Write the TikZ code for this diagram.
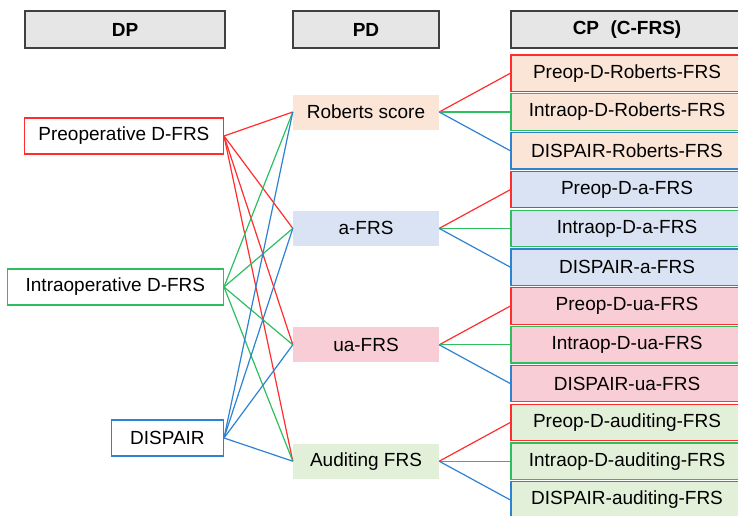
\documentclass[tikz,border=0pt]{standalone}
\usepackage{fontspec}
\setmainfont{Liberation Sans}
\usepackage{tikz}

\definecolor{lnred}{RGB}{255,45,45}
\definecolor{lngreen}{RGB}{45,190,95}
\definecolor{lnblue}{RGB}{45,130,210}
\definecolor{headfill}{RGB}{231,230,230}
\definecolor{headline}{RGB}{64,64,64}
\definecolor{robfill}{RGB}{251,229,214}
\definecolor{afill}{RGB}{218,227,243}
\definecolor{uafill}{RGB}{249,205,213}
\definecolor{audfill}{RGB}{226,240,217}

\begin{document}
\begin{tikzpicture}[x=1pt,y=-1pt,font=\fontsize{19}{22}\selectfont]

	\tikzstyle head=[draw=headline,fill=headfill,line width=1.3pt,minimum height=37pt,inner sep=0pt,font=\fontsize{19}{22}\selectfont\bfseries];
	\tikzstyle dp box=[draw,fill=white,line width=1.2pt,minimum height=36pt,inner sep=0pt,anchor=east];
	\tikzstyle pd box=[minimum width=146pt,minimum height=35pt,inner sep=0pt];
	\tikzstyle cp box=[draw,line width=1.2pt,minimum width=232pt,minimum height=36.5pt,inner sep=0pt];
	\tikzstyle red lines=[lnred,line width=1.2pt];
	\tikzstyle green lines=[lngreen,line width=1.2pt];
	\tikzstyle blue lines=[lnblue,line width=1.2pt];

	\useasboundingbox (0,0) rectangle (738,515);
	\clip (0,0) rectangle (738,515);

	% column heads
	\node[head,minimum width=200pt] (hDP) at (125,29.5) {DP};
	\node[head,minimum width=146pt] (hPD) at (366,29.5) {PD};
	\node[head,minimum width=232pt] (hCP) at (627,29.5) {CP\hspace{0.6em}(C-FRS)};

	% DP
	\node[dp box,draw=lnred,minimum width=199pt] (dpPre) at (224,136) {Preoperative D-FRS};
	\node[dp box,draw=lngreen,minimum width=216pt] (dpIntra) at (224,287) {Intraoperative D-FRS};
	\node[dp box,draw=lnblue,minimum width=112pt] (dpDisp) at (224,438) {DISPAIR};

	% PD
	\node[pd box,fill=robfill] (pdRob) at (366,112) {Roberts score};
	\node[pd box,fill=afill] (pdA) at (366,228.4) {a-FRS};
	\node[pd box,fill=uafill] (pdUa) at (366,344.8) {ua-FRS};
	\node[pd box,fill=audfill] (pdAud) at (366,461.2) {Auditing FRS};

	% CP
	\node[cp box,draw=lnred,fill=robfill] (cpPreRob) at (627,73.2) {Preop-D-Roberts-FRS};
	\node[cp box,draw=lngreen,fill=robfill] (cpIntraRob) at (627,112) {Intraop-D-Roberts-FRS};
	\node[cp box,draw=lnblue,fill=robfill] (cpDispRob) at (627,150.8) {DISPAIR-Roberts-FRS};

	\node[cp box,draw=lnred,fill=afill] (cpPreA) at (627,189.6) {Preop-D-a-FRS};
	\node[cp box,draw=lngreen,fill=afill] (cpIntraA) at (627,228.4) {Intraop-D-a-FRS};
	\node[cp box,draw=lnblue,fill=afill] (cpDispA) at (627,267.2) {DISPAIR-a-FRS};

	\node[cp box,draw=lnred,fill=uafill] (cpPreUa) at (627,306) {Preop-D-ua-FRS};
	\node[cp box,draw=lngreen,fill=uafill] (cpIntraUa) at (627,344.8) {Intraop-D-ua-FRS};
	\node[cp box,draw=lnblue,fill=uafill] (cpDispUa) at (627,383.6) {DISPAIR-ua-FRS};

	\node[cp box,draw=lnred,fill=audfill] (cpPreAud) at (627,422.4) {Preop-D-auditing-FRS};
	\node[cp box,draw=lngreen,fill=audfill] (cpIntraAud) at (627,461.2) {Intraop-D-auditing-FRS};
	\node[cp box,draw=lnblue,fill=audfill] (cpDispAud) at (627,500) {DISPAIR-auditing-FRS};

	% DP -> PD
	\draw[red lines] (dpPre.east) -- (pdRob.west);
	\draw[red lines] (dpPre.east) -- (pdA.west);
	\draw[red lines] (dpPre.east) -- (pdUa.west);
	\draw[red lines] (dpPre.east) -- (pdAud.west);

	\draw[green lines] (dpIntra.east) -- (pdRob.west);
	\draw[green lines] (dpIntra.east) -- (pdA.west);
	\draw[green lines] (dpIntra.east) -- (pdUa.west);
	\draw[green lines] (dpIntra.east) -- (pdAud.west);

	\draw[blue lines] (dpDisp.east) -- (pdRob.west);
	\draw[blue lines] (dpDisp.east) -- (pdA.west);
	\draw[blue lines] (dpDisp.east) -- (pdUa.west);
	\draw[blue lines] (dpDisp.east) -- (pdAud.west);

	% PD -> CP
	\draw[red lines] (pdRob.east) -- (cpPreRob.west);
	\draw[green lines] (pdRob.east) -- (cpIntraRob.west);
	\draw[blue lines] (pdRob.east) -- (cpDispRob.west);

	\draw[red lines] (pdA.east) -- (cpPreA.west);
	\draw[green lines] (pdA.east) -- (cpIntraA.west);
	\draw[blue lines] (pdA.east) -- (cpDispA.west);

	\draw[red lines] (pdUa.east) -- (cpPreUa.west);
	\draw[green lines] (pdUa.east) -- (cpIntraUa.west);
	\draw[blue lines] (pdUa.east) -- (cpDispUa.west);

	\draw[red lines] (pdAud.east) -- (cpPreAud.west);
	\draw[green lines] (pdAud.east) -- (cpIntraAud.west);
	\draw[blue lines] (pdAud.east) -- (cpDispAud.west);

\end{tikzpicture}
\end{document}
